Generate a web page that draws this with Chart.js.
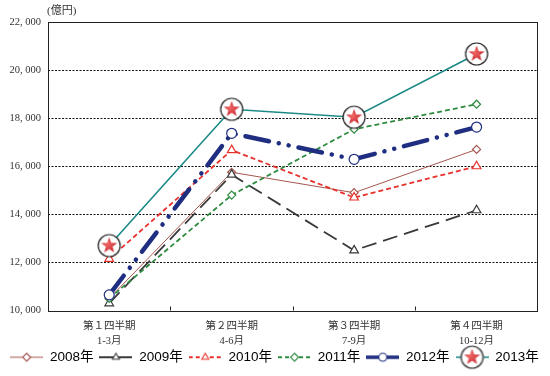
<!DOCTYPE html>
<html>
<head>
<meta charset="utf-8">
<script src="https://cdn.jsdelivr.net/npm/chart.js@4/dist/chart.umd.min.js"></script>
<style>
body { margin: 0; background: #fff; }
</style>
</head>
<body>
<canvas id="myChart" width="550" height="376"></canvas>
<script>
// Quarters on the x axis (two lines per label)
var quarterNames = ['第１四半期', '第２四半期', '第３四半期', '第４四半期'];
var monthRanges = ['1-3月', '4-6月', '7-9月', '10-12月'];

// Series values (億円)
var years = ['2008年', '2009年', '2010年', '2011年', '2012年', '2013年'];
var sales2008 = [10500, 15750, 14900, 16700];
var sales2009 = [10300, 15650, 12500, 14170];
var sales2010 = [12150, 16670, 14700, 16000];
var sales2011 = [10500, 14800, 17540, 18580];
var sales2012 = [10650, 17370, 16290, 17630];
var sales2013 = [12700, 18370, 18040, 20670];

var yMin = 10000;
var yMax = 22000;
var yStep = 2000;
var unitLabel = '(億円)';

// Draws a red star inside a black ring, used for 2013
function starRing(r) {
    var size = Math.ceil(r * 2 + 4);
    var c = document.createElement('canvas');
    c.width = size; c.height = size;
    var g = c.getContext('2d');
    var cx = size / 2, cy = size / 2;
    g.beginPath();
    g.arc(cx, cy, r, 0, Math.PI * 2);
    g.fillStyle = '#fff';
    g.fill();
    g.lineWidth = 1.2;
    g.strokeStyle = '#222';
    g.stroke();
    var outer = r * 0.76, inner = outer * 0.42;
    g.beginPath();
    for (var k = 0; k < 10; k++) {
        var rad = k % 2 === 0 ? outer : inner;
        var a = -Math.PI / 2 + k * Math.PI / 5;
        g.lineTo(cx + rad * Math.cos(a), cy + rad * Math.sin(a));
    }
    g.closePath();
    var grad = g.createRadialGradient(cx - 2, cy - 2, 1, cx, cy, outer);
    grad.addColorStop(0, '#ee6262');
    grad.addColorStop(1, '#c4222a');
    g.fillStyle = grad;
    g.fill();
    return c;
}

// Legend sample: a short line with the series marker in the middle
function legendIcon(ds, w) {
    var c = document.createElement('canvas');
    var h = ds.year2013 ? 26 : 12;
    c.width = w; c.height = h;
    var g = c.getContext('2d');
    g.strokeStyle = ds.borderColor;
    g.lineWidth = Math.min(ds.borderWidth, 3.5);
    g.setLineDash(ds.legendDash || []);
    g.beginPath();
    g.moveTo(0, h / 2);
    g.lineTo(w, h / 2);
    g.stroke();
    g.setLineDash([]);
    var cx = w / 2, cy = h / 2, r = ds.pointRadius;
    if (ds.year2013) {
        var s = starRing(11);
        g.clearRect(cx - 11, 0, 22, h);
        g.drawImage(s, cx - s.width / 2, cy - s.height / 2);
        return c;
    }
    r = Math.min(r, 4);
    g.beginPath();
    if (ds.pointStyle === 'rectRot') {
        g.moveTo(cx, cy - r); g.lineTo(cx + r, cy); g.lineTo(cx, cy + r); g.lineTo(cx - r, cy);
    } else if (ds.pointStyle === 'triangle') {
        g.moveTo(cx, cy - r); g.lineTo(cx + r * 0.87, cy + r * 0.5); g.lineTo(cx - r * 0.87, cy + r * 0.5);
    } else {
        g.arc(cx, cy, r, 0, Math.PI * 2);
    }
    g.closePath();
    g.fillStyle = '#fff';
    g.fill();
    g.lineWidth = 1.1;
    g.strokeStyle = ds.borderColor;
    g.stroke();
    return c;
}

var datasets = [
    { label: years[0], data: sales2008, borderColor: '#a4554f', borderWidth: 1,
      pointStyle: 'rectRot', pointRadius: 4 },
    { label: years[1], data: sales2009, borderColor: '#3a3a3a', borderWidth: 1.8,
      borderDash: [15, 7], legendDash: [], pointStyle: 'triangle', pointRadius: 5 },
    { label: years[2], data: sales2010, borderColor: '#e8302c', borderWidth: 1.8,
      borderDash: [5, 3], legendDash: [4, 3], pointStyle: 'triangle', pointRadius: 5 },
    { label: years[3], data: sales2011, borderColor: '#2e8b40', borderWidth: 1.8,
      borderDash: [5, 3], legendDash: [4, 3], pointStyle: 'rectRot', pointRadius: 4 },
    { label: years[4], data: sales2012, borderColor: '#1f2e80', borderWidth: 4.5,
      borderDash: [24, 10, 0.1, 10, 0.1, 10], borderCapStyle: 'round', legendDash: [],
      pointStyle: 'circle', pointRadius: 5 },
    { label: years[5], data: sales2013, borderColor: '#1b8a86', borderWidth: 1.6,
      pointStyle: starRing(11), pointRadius: 11, year2013: true }
];

datasets.forEach(function (ds, i) {
    ds.fill = false;
    ds.tension = 0;
    ds.backgroundColor = '#fff';
    ds.pointBackgroundColor = '#fff';
    ds.pointBorderColor = ds.borderColor;
    ds.pointBorderWidth = 1.2;
    ds.order = datasets.length - i;
    if (!ds.legendDash) ds.legendDash = ds.borderDash || [];
});
datasets[5].order = 0;

var icons = datasets.map(function (ds) { return legendIcon(ds, 33); });

// Plot frame and the small inward ticks between quarters
var framePlugin = {
    id: 'frame',
    beforeDatasetsDraw: function (chart) {
        var a = chart.chartArea, x = chart.scales.x, g = chart.ctx;
        g.save();
        g.strokeStyle = '#222';
        g.lineWidth = 1;
        g.strokeRect(Math.round(a.left) + 0.5, Math.round(a.top) + 0.5,
            Math.round(a.right - a.left) - 1, Math.round(a.bottom - a.top));
        for (var i = 1; i < quarterNames.length; i++) {
            var px = Math.round((x.getPixelForValue(i - 1) + x.getPixelForValue(i)) / 2) + 0.5;
            g.beginPath();
            g.moveTo(px, a.bottom - 4);
            g.lineTo(px, a.bottom);
            g.stroke();
        }
        g.restore();
    },
    afterDraw: function (chart) {
        var g = chart.ctx;
        g.save();
        g.font = '11px "Liberation Serif", "Noto Sans CJK JP"';
        g.fillStyle = '#333';
        g.textBaseline = 'middle';
        g.fillText(unitLabel, chart.chartArea.left - 1, 11);
        g.restore();
    }
};

var ctx = document.getElementById('myChart').getContext('2d');
var chart = new Chart(ctx, {
    type: 'line',
    data: {
        labels: quarterNames.map(function (q, i) { return [q, monthRanges[i]]; }),
        datasets: datasets
    },
    options: {
        responsive: false,
        animation: false,
        layout: { padding: { top: 22, left: 2, right: 3, bottom: 2 } },
        scales: {
            x: {
                offset: true,
                afterFit: function (s) { s.height = 34; },
                grid: { display: false, drawTicks: false },
                border: { display: false },
                ticks: {
                    color: '#333',
                    padding: 9,
                    font: { family: '"Liberation Serif", "Noto Sans CJK JP"', size: 10.5, lineHeight: 1.35 }
                }
            },
            y: {
                min: yMin,
                max: yMax,
                afterFit: function (s) { s.width = 46; },
                grid: {
                    drawTicks: false,
                    color: function (c) {
                        return (c.tick && (c.tick.value === yMin || c.tick.value === yMax)) ? 'rgba(0,0,0,0)' : '#111';
                    },
                    lineWidth: 1
                },
                border: { display: false, dash: [2, 1.5] },
                ticks: {
                    stepSize: yStep,
                    color: '#333',
                    padding: 7,
                    font: { family: '"Liberation Serif"', size: 10.5 },
                    callback: function (v) {
                        return String(v).replace(/(\d)(\d{3})$/, '$1, $2');
                    }
                }
            }
        },
        plugins: {
            legend: {
                position: 'bottom',
                labels: {
                    usePointStyle: true,
                    pointStyleWidth: 33,
                    padding: 6,
                    color: '#000',
                    font: { family: '"Liberation Sans", "Noto Sans CJK JP"', size: 13.5 },
                    generateLabels: function (ch) {
                        return ch.data.datasets.map(function (ds, i) {
                            return {
                                text: ds.label,
                                fillStyle: ds.borderColor,
                                strokeStyle: ds.borderColor,
                                lineWidth: 0,
                                pointStyle: icons[i],
                                hidden: false,
                                datasetIndex: i,
                                fontColor: '#000'
                            };
                        });
                    }
                }
            },
            tooltip: { enabled: false }
        }
    },
    plugins: [framePlugin]
});
</script>
</body>
</html>
